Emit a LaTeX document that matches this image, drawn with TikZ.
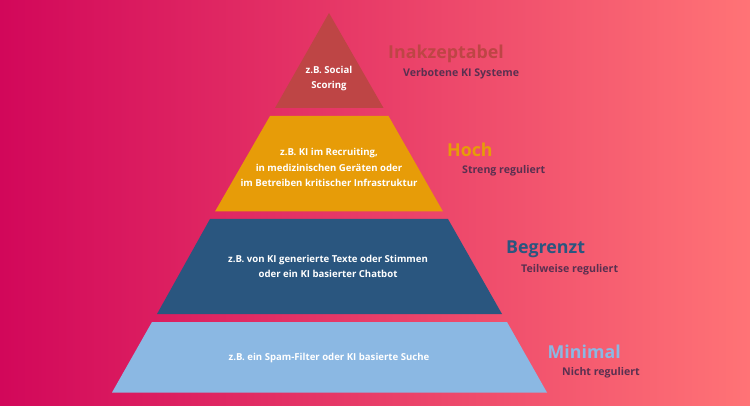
\documentclass[tikz,border=0pt]{standalone}
\usepackage{fontspec}
\setmainfont{Open Sans}
\definecolor{bgl}{HTML}{D2075A}
\definecolor{bgr}{HTML}{FF7376}
\definecolor{red1}{HTML}{BE4545}
\definecolor{org}{HTML}{E79C08}
\definecolor{navy}{HTML}{2A567F}
\definecolor{sky}{HTML}{8BB8E3}
\definecolor{dark}{HTML}{5A3050}
\tikzset{
  inner/.style={text=white,font=\fontsize{9.6}{15.2}\selectfont\bfseries,align=center,inner sep=0pt,anchor=center},
  head/.style={font=\fontsize{17.8}{20}\selectfont\bfseries,inner sep=0pt,anchor=west},
  sub/.style={text=dark,font=\fontsize{10.6}{12}\selectfont\bfseries,inner sep=0pt,anchor=west}
}
\begin{document}
\begin{tikzpicture}[x=1pt,y=-1pt]
\useasboundingbox (0,0) rectangle (750,406);
\shade[left color=bgl,right color=bgr] (0,0) rectangle (750,406);
\fill[red1] (329,13) -- (383.5,108) -- (275,108) -- cycle;
\fill[org] (270,116) -- (388.5,116) -- (443,211.5) -- (215,211.5) -- cycle;
\fill[navy] (210,219) -- (448,219) -- (502,314) -- (157,314) -- cycle;
\fill[sky] (152,322) -- (507,322) -- (547,392.5) -- (112,392.5) -- cycle;
\node[inner] (t1) at (329,78.5) {z.B. Social\\Scoring};
\node[inner] (t2) at (329,167.5) {z.B. KI im Recruiting,\\in medizinischen Geräten oder\\im Betreiben kritischer Infrastruktur};
\node[inner] (t3) at (328,266.5) {z.B. von KI generierte Texte oder Stimmen\\oder ein KI basierter Chatbot};
\node[inner] (t4) at (329,358) {z.B. ein Spam-Filter oder KI basierte Suche};
\node[head,text=red1] (h1) at (388,53.5) {Inakzeptabel};
\node[sub] (s1) at (403,74) {Verbotene KI Systeme};
\node[head,text=org] (h2) at (447,149.5) {Hoch};
\node[sub] (s2) at (462,171) {Streng reguliert};
\node[head,text=navy] (h3) at (506,249.5) {Begrenzt};
\node[sub] (s3) at (521,270) {Teilweise reguliert};
\node[head,text=sky] (h4) at (547.5,352) {Minimal};
\node[sub] (s4) at (562,373) {Nicht reguliert};
\end{tikzpicture}
\end{document}
